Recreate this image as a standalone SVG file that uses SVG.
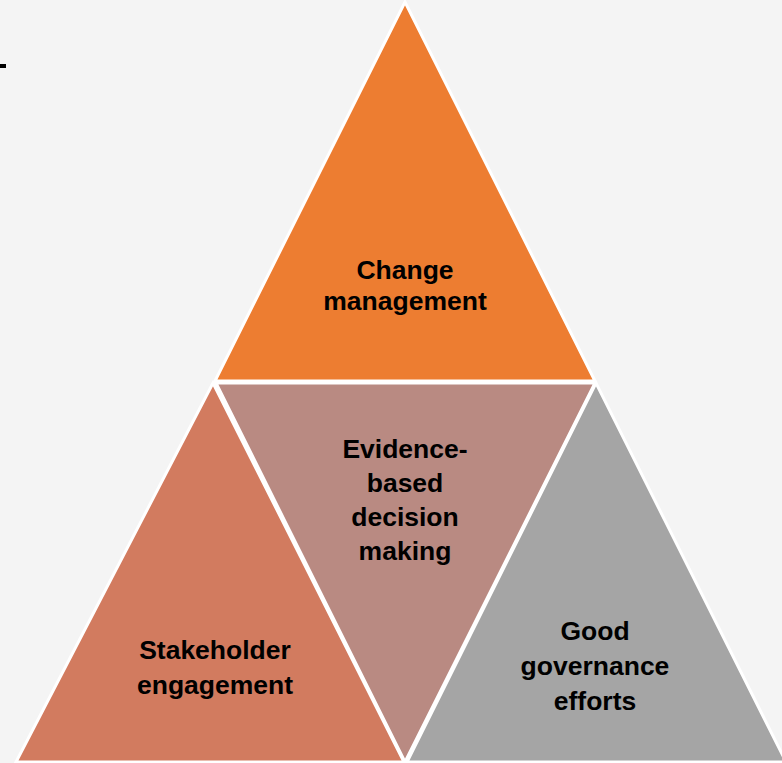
<svg xmlns="http://www.w3.org/2000/svg" width="782" height="763" viewBox="0 0 782 763">
<style>
.tri{stroke:#ffffff;stroke-width:3;stroke-linejoin:miter}
.lbl{font-family:"Liberation Sans",Arial,sans-serif;font-weight:bold;font-size:26.5px;fill:#000000;text-anchor:middle}
</style>
<rect x="0" y="0" width="782" height="763" fill="#f4f4f4"/>
<rect x="0" y="64" width="6" height="4" fill="#000000"/>
<g id="node-change">
<polygon class="tri" points="405,2 215,381 595,381" fill="#ed7d31"/>
<text class="lbl" x="405" y="279">Change</text>
<text class="lbl" x="405" y="310">management</text>
</g>
<g id="node-stakeholder">
<polygon class="tri" points="213,383 16,762 404,762" fill="#d27b5f"/>
<text class="lbl" x="215" y="659">Stakeholder</text>
<text class="lbl" x="215" y="694">engagement</text>
</g>
<g id="node-evidence">
<polygon class="tri" points="216,383 595,383 405,762" fill="#b98a82"/>
<text class="lbl" x="405" y="458">Evidence-</text>
<text class="lbl" x="405" y="492">based</text>
<text class="lbl" x="405" y="526">decision</text>
<text class="lbl" x="405" y="560">making</text>
</g>
<g id="node-governance">
<polygon class="tri" points="596,383 407,762 786,762" fill="#a5a5a5"/>
<text class="lbl" x="595" y="640">Good</text>
<text class="lbl" x="595" y="675">governance</text>
<text class="lbl" x="595" y="710">efforts</text>
</g>
<g id="connectors"></g>
</svg>
